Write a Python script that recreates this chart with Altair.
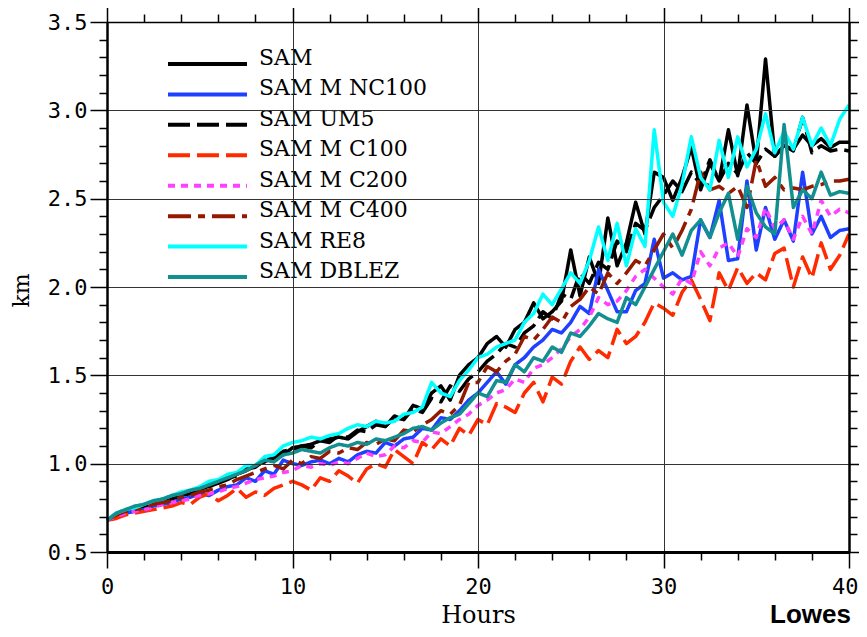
import altair as alt
import pandas as pd

# ---------------- data ----------------
hours = [i * 0.5 for i in range(81)]  # 0 .. 40 h, every half hour

names = ["SAM", "SAM M NC100", "SAM UM5", "SAM M C100",
         "SAM M C200", "SAM M C400", "SAM RE8", "SAM DBLEZ"]

sam = [0.68, 0.71, 0.73, 0.74, 0.76, 0.77, 0.79, 0.80, 0.82, 0.83,
       0.86, 0.87, 0.89, 0.91, 0.94, 0.96, 0.99, 1.01, 1.04, 1.05,
       1.09, 1.10, 1.11, 1.13, 1.14, 1.15, 1.14, 1.18, 1.21, 1.24,
       1.21, 1.27, 1.25, 1.33, 1.31, 1.40, 1.44, 1.36, 1.50, 1.56,
       1.60, 1.68, 1.72, 1.66, 1.76, 1.80, 1.91, 1.82, 1.86, 1.92,
       2.21, 1.95, 2.17, 2.02, 2.39, 2.12, 2.25, 2.48, 2.30, 2.65,
       2.62, 2.49, 2.62, 2.79, 2.55, 2.70, 2.60, 2.89, 2.63, 3.03,
       2.70, 3.29, 2.74, 2.80, 2.78, 2.86, 2.80, 2.84, 2.79, 2.82,
       2.82]

nc100 = [0.68, 0.70, 0.72, 0.73, 0.75, 0.76, 0.77, 0.78, 0.80, 0.81,
         0.83, 0.82, 0.85, 0.87, 0.88, 0.92, 0.90, 0.96, 0.94, 1.02,
         1.00, 0.99, 1.01, 1.02, 1.00, 1.03, 1.01, 1.05, 1.07, 1.06,
         1.12, 1.10, 1.14, 1.15, 1.20, 1.19, 1.26, 1.25, 1.30, 1.36,
         1.40, 1.46, 1.52, 1.45, 1.56, 1.60, 1.66, 1.70, 1.76, 1.74,
         1.80, 1.89, 1.85, 2.10, 1.98, 1.86, 1.86, 1.98, 2.02, 2.27,
         2.05, 2.08, 2.04, 2.06, 2.38, 2.28, 2.49, 2.15, 2.16, 2.60,
         2.21, 2.45, 2.27, 2.38, 2.26, 2.65, 2.30, 2.40, 2.28, 2.32,
         2.33]

um5 = [0.68, 0.71, 0.73, 0.75, 0.76, 0.78, 0.79, 0.81, 0.82, 0.84,
       0.85, 0.88, 0.89, 0.92, 0.93, 0.97, 0.98, 1.02, 1.03, 1.07,
       1.08, 1.10, 1.09, 1.13, 1.12, 1.16, 1.15, 1.19, 1.18, 1.22,
       1.21, 1.26, 1.25, 1.31, 1.29, 1.37, 1.35, 1.44, 1.41, 1.48,
       1.52, 1.58, 1.62, 1.68, 1.66, 1.74, 1.78, 1.86, 1.82, 1.96,
       1.93, 2.08, 2.02, 2.14, 2.10, 2.26, 2.20, 2.36, 2.32, 2.45,
       2.52, 2.60, 2.54, 2.65, 2.58, 2.72, 2.60, 2.70, 2.64, 2.76,
       2.70, 2.78, 2.74, 2.80, 2.77, 2.96, 2.76, 2.80, 2.77, 2.78,
       2.77]

c100 = [0.68, 0.69, 0.71, 0.72, 0.73, 0.74, 0.75, 0.76, 0.78, 0.77,
        0.81, 0.83, 0.79, 0.82, 0.86, 0.81, 0.84, 0.82, 0.86, 0.88,
        0.90, 0.88, 0.85, 0.92, 0.90, 0.96, 0.93, 0.89, 0.97, 1.00,
        0.98, 1.08, 1.04, 1.00, 1.12, 1.08, 1.14, 1.10, 1.20, 1.16,
        1.25, 1.22, 1.34, 1.32, 1.29, 1.40, 1.46, 1.35, 1.49, 1.45,
        1.58, 1.66, 1.59, 1.64, 1.60, 1.76, 1.68, 1.72, 1.80, 1.91,
        1.88, 1.84, 1.97, 2.04, 1.93, 1.81, 2.08, 1.98, 2.11, 2.02,
        2.08, 2.04, 2.19, 2.22, 2.00, 2.17, 2.05, 2.25, 2.10, 2.18,
        2.30]

c200 = [0.68, 0.70, 0.72, 0.73, 0.74, 0.75, 0.77, 0.78, 0.79, 0.80,
        0.82, 0.83, 0.84, 0.86, 0.87, 0.89, 0.91, 0.92, 0.93, 0.95,
        0.96, 0.99, 0.98, 1.00, 0.99, 1.01, 1.00, 1.03, 1.06, 1.04,
        1.05, 1.10, 1.09, 1.13, 1.12, 1.18, 1.17, 1.21, 1.25, 1.28,
        1.33, 1.36, 1.40, 1.42, 1.48, 1.46, 1.54, 1.56, 1.60, 1.65,
        1.72, 1.76, 1.83, 1.94, 1.90, 1.92, 1.98, 2.06, 2.10, 2.05,
        2.00, 1.96, 2.05, 2.02, 2.20, 2.12, 2.22, 2.25, 2.17, 2.33,
        2.28, 2.45, 2.33, 2.38, 2.27, 2.40, 2.30, 2.49, 2.40, 2.44,
        2.42]

c400 = [0.68, 0.71, 0.73, 0.74, 0.75, 0.77, 0.78, 0.79, 0.81, 0.82,
        0.84, 0.85, 0.87, 0.88, 0.91, 0.93, 0.95, 0.97, 0.99, 0.97,
        1.02, 1.00, 1.04, 1.03, 1.07, 1.06, 1.09, 1.08, 1.12, 1.11,
        1.14, 1.13, 1.19, 1.18, 1.22, 1.25, 1.30, 1.28, 1.33, 1.46,
        1.46, 1.55, 1.52, 1.58, 1.62, 1.72, 1.70, 1.76, 1.83, 1.80,
        1.89, 1.93, 2.00, 1.96, 2.08, 2.02, 2.08, 2.15, 2.12, 2.21,
        2.30, 2.22, 2.32, 2.44, 2.65, 2.55, 2.57, 2.53, 2.57, 2.45,
        2.72, 2.57, 2.62, 2.55, 2.56, 2.55, 2.57, 2.58, 2.60, 2.60,
        2.61]

re8 = [0.68, 0.72, 0.74, 0.75, 0.77, 0.79, 0.80, 0.82, 0.84, 0.85,
       0.87, 0.90, 0.91, 0.94, 0.95, 0.99, 0.99, 1.04, 1.05, 1.10,
       1.12, 1.13, 1.15, 1.14, 1.16, 1.17, 1.20, 1.22, 1.21, 1.24,
       1.23, 1.24, 1.28, 1.29, 1.32, 1.46, 1.40, 1.38, 1.47, 1.53,
       1.60, 1.62, 1.66, 1.68, 1.70, 1.80, 1.85, 1.96, 1.90, 1.99,
       2.08, 2.02, 2.15, 2.34, 2.15, 2.36, 2.12, 2.33, 2.23, 2.89,
       2.48, 2.40, 2.58, 2.85, 2.62, 2.55, 2.83, 2.62, 2.85, 2.68,
       2.78, 2.98, 2.76, 2.88, 2.78, 2.96, 2.80, 2.90, 2.80, 2.95,
       3.03]

dblez = [0.68, 0.72, 0.74, 0.76, 0.77, 0.79, 0.80, 0.82, 0.83, 0.85,
         0.86, 0.88, 0.90, 0.92, 0.94, 0.96, 0.99, 1.02, 1.01, 1.05,
         1.06, 1.08, 1.07, 1.06, 1.09, 1.11, 1.10, 1.12, 1.11, 1.14,
         1.13, 1.15, 1.17, 1.20, 1.21, 1.19, 1.23, 1.26, 1.28, 1.34,
         1.40, 1.38, 1.47, 1.46, 1.56, 1.52, 1.60, 1.58, 1.66, 1.63,
         1.74, 1.72, 1.78, 1.85, 1.82, 1.80, 1.94, 1.90, 2.00, 2.10,
         2.20, 2.30, 2.18, 2.32, 2.38, 2.28, 2.42, 2.53, 2.27, 2.57,
         2.42, 2.34, 2.30, 2.92, 2.45, 2.55, 2.50, 2.65, 2.52, 2.54,
         2.53]

series_values = [sam, nc100, um5, c100, c200, c400, re8, dblez]

x_major = [0, 10, 20, 30, 40]
x_minor = [2, 4, 6, 8, 12, 14, 16, 18, 22, 24, 26, 28, 32, 34, 36, 38]
y_major = [0.5, 1.0, 1.5, 2.0, 2.5, 3.0, 3.5]
y_minor = [0.6, 0.7, 0.8, 0.9, 1.1, 1.2, 1.3, 1.4, 1.6, 1.7, 1.8, 1.9,
           2.1, 2.2, 2.3, 2.4, 2.6, 2.7, 2.8, 2.9, 3.1, 3.2, 3.3, 3.4]

note_text = ["Lowes"]

# ---------------- styles ----------------
colors = ["#000000", "#1e40ff", "#000000", "#ff2a00",
          "#ff40ff", "#931a00", "#00ffff", "#129090"]
dashes = [[1, 0], [1, 0], [22, 7], [22, 7], [7, 6], [23, 7, 7, 7], [1, 0], [1, 0]]

rows = []
for name, vals in zip(names, series_values):
    for h, v in zip(hours, vals):
        rows.append({"series": name, "hours": h, "km": v})
df = pd.DataFrame(rows)

TICK_FONT = "DejaVu Sans Mono"
SERIF = "DejaVu Serif"

xs = alt.Scale(domain=[0, 40], nice=False, zero=False)
ys = alt.Scale(domain=[0.5, 3.5], nice=False, zero=False)
color_enc = alt.Color("series:N", scale=alt.Scale(domain=names, range=colors), legend=None)
dash_enc = alt.StrokeDash("series:N", scale=alt.Scale(domain=names, range=dashes), legend=None)

last_label = "datum.value >= 40"

lines = alt.Chart(df).mark_line(strokeWidth=3.5, strokeJoin="round").encode(
    x=alt.X("hours:Q", scale=xs, axis=alt.Axis(
        orient="bottom", values=x_major, format="d", tickSize=16, tickWidth=1.5,
        tickColor="black", labelFont=TICK_FONT, labelFontSize=22, labelColor="black",
        labelPadding=8, labelFlush=False, labelOverlap=False,
        labelAlign={"condition": {"test": last_label, "value": "right"}, "value": "center"},
        labelOffset={"condition": {"test": last_label, "value": 9}, "value": 0},
        grid=True, gridColor="#333333", gridWidth=1,
        domainColor="black", domainWidth=3,
        title="Hours", titleFont=SERIF, titleFontSize=24, titleFontWeight="normal",
        titleColor="black", titleY=70, titleBaseline="alphabetic", zindex=1)),
    y=alt.Y("km:Q", scale=ys, axis=alt.Axis(
        orient="left", values=y_major, format=".1f", tickSize=17, tickWidth=1.5,
        tickColor="black", labelFont=TICK_FONT, labelFontSize=22, labelColor="black",
        labelPadding=3, labelOverlap=False,
        grid=True, gridColor="#333333", gridWidth=1,
        domainColor="black", domainWidth=2.5,
        title="km", titleFont=SERIF, titleFontSize=22, titleFontWeight="normal",
        titleColor="black", titleX=-79, titleY=268, titleAngle=-90,
        titleAlign="center", titleBaseline="alphabetic", zindex=1)),
    color=color_enc,
    strokeDash=dash_enc,
    detail="series:N",
)

ghost = alt.Chart(df).mark_point(opacity=0, size=1)

minor_bl = ghost.encode(
    x=alt.X("hours:Q", scale=xs, axis=alt.Axis(
        orient="bottom", values=x_minor, tickSize=8, tickWidth=1.5, tickColor="black",
        labels=False, domain=False, grid=False, title=None, zindex=1)),
    y=alt.Y("km:Q", scale=ys, axis=alt.Axis(
        orient="left", values=y_minor, tickSize=8, tickWidth=1.5, tickColor="black",
        labels=False, domain=False, grid=False, title=None, zindex=1)),
)

major_tr = ghost.encode(
    x=alt.X("hours:Q", scale=xs, axis=alt.Axis(
        orient="top", values=x_major, tickSize=16, tickWidth=1.5, tickColor="black",
        labels=False, domain=True, domainColor="black", domainWidth=1.5,
        grid=False, title=None, zindex=1)),
    y=alt.Y("km:Q", scale=ys, axis=alt.Axis(
        orient="right", values=y_major, tickSize=17, tickWidth=1.5, tickColor="black",
        labels=False, domain=True, domainColor="black", domainWidth=2.5,
        grid=False, title=None, zindex=1)),
)

minor_tr = ghost.encode(
    x=alt.X("hours:Q", scale=xs, axis=alt.Axis(
        orient="top", values=x_minor, tickSize=8, tickWidth=1.5, tickColor="black",
        labels=False, domain=False, grid=False, title=None, zindex=1)),
    y=alt.Y("km:Q", scale=ys, axis=alt.Axis(
        orient="right", values=y_minor, tickSize=8, tickWidth=1.5, tickColor="black",
        labels=False, domain=False, grid=False, title=None, zindex=1)),
)

# ---------------- in-plot legend ----------------
leg_df = pd.DataFrame({"series": names})
leg_y = alt.Y("series:N", scale=alt.Scale(type="point", domain=names, range=[42, 255], padding=0),
              axis=None)

leg_lines = alt.Chart(leg_df).mark_rule(strokeWidth=4).encode(
    x=alt.value(61), x2=alt.value(140), y=leg_y, color=color_enc, strokeDash=dash_enc)

leg_text = alt.Chart(leg_df).mark_text(
    align="left", baseline="alphabetic", font=SERIF, fontSize=22, dy=1, color="black"
).encode(x=alt.value(152), y=leg_y, text="series:N")

note = alt.Chart(pd.DataFrame({"note": note_text})).mark_text(
    align="left", baseline="alphabetic", font="Liberation Sans", fontWeight="bold",
    fontSize=26, color="black"
).encode(x=alt.value(663), y=alt.value(601), text="note:N")

chart = alt.layer(
    lines, minor_bl, major_tr, minor_tr, leg_lines, leg_text, note
).resolve_scale(
    y="independent"
).resolve_axis(
    x="independent", y="independent"
).properties(
    width=742, height=530,
    padding={"left": 99, "top": 14, "right": 10, "bottom": 77},
    autosize=alt.AutoSizeParams(type="none"),
    background="white",
).configure_view(stroke=None)

chart.save("out.html", embed_options={"renderer": "svg", "actions": False})
